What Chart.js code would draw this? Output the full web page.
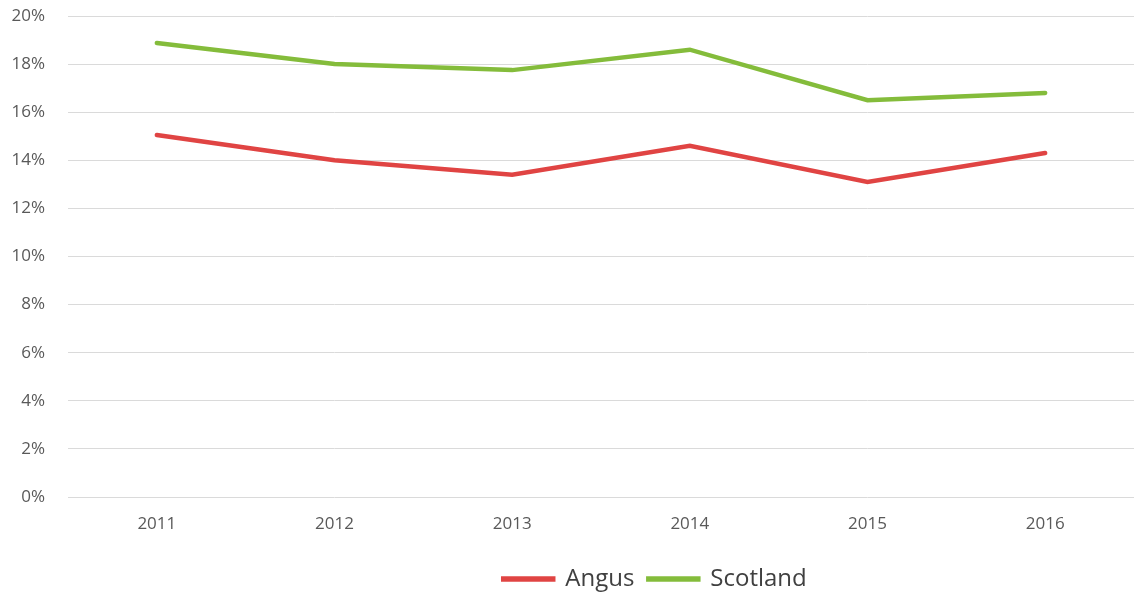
<!DOCTYPE html>
<html>
<head>
<meta charset="utf-8">
<script src="https://cdn.jsdelivr.net/npm/chart.js@4/dist/chart.umd.min.js"></script>
<style>
  html, body { margin: 0; padding: 0; background: #fff; }
  #wrap { width: 1134px; height: 595px; }
</style>
</head>
<body>
<div id="wrap"><canvas id="rateChart"></canvas></div>
<script>
// Years and rates (%) for each area
const years = ["2011", "2012", "2013", "2014", "2015", "2016"];
const angus = [15.05, 14.0, 13.4, 14.6, 13.1, 14.3];
const scotland = [18.88, 18.0, 17.75, 18.6, 16.5, 16.8];
const yTicks = [0, 2, 4, 6, 8, 10, 12, 14, 16, 18, 20];

const RED = "#e04443";
const GREEN = "#84bc3b";
const TEXT = "#595959";

// pushes the legend right and down under the plot
const legendShift = {
    id: "legendShift",
    afterLayout(chart) {
        const lg = chart.legend;
        if (!lg) return;
        lg.left += 176;
        lg.top += 10;
        lg.bottom += 10;
    }
};

document.addEventListener("DOMContentLoaded", () => {
    const ctx = document.getElementById("rateChart");

    new Chart(ctx, {
        type: "line",
        data: {
            labels: years,
            datasets: [
                {
                    label: "Angus",
                    data: angus,
                    borderColor: RED,
                    backgroundColor: RED,
                    borderWidth: 4.5,
                    pointRadius: 0,
                    tension: 0,
                    borderCapStyle: "round"
                },
                {
                    label: "Scotland",
                    data: scotland,
                    borderColor: GREEN,
                    backgroundColor: GREEN,
                    borderWidth: 4.5,
                    pointRadius: 0,
                    tension: 0,
                    borderCapStyle: "round"
                }
            ]
        },
        options: {
            responsive: true,
            maintainAspectRatio: false,
            animation: false,
            layout: { padding: { top: 0, right: 0, left: 0, bottom: 4 } },
            plugins: {
                tooltip: { enabled: false },
                legend: {
                    position: "bottom",
                    labels: {
                        boxWidth: 50,
                        boxHeight: 1,
                        padding: 14,
                        color: "#404040",
                        font: { family: "'Open Sans'", size: 24 }
                    }
                }
            },
            scales: {
                x: {
                    offset: true,
                    grid: { display: false },
                    border: { display: false },
                    ticks: {
                        color: TEXT,
                        padding: 9,
                        maxRotation: 0,
                        font: { family: "'Open Sans'", size: 17 }
                    },
                    afterFit: s => { s.height = 46; }
                },
                y: {
                    min: 0,
                    max: 20,
                    afterBuildTicks: s => { s.ticks = yTicks.map(v => ({ value: v })); },
                    grid: { color: "#dadada", lineWidth: 1, drawTicks: false },
                    border: { display: false },
                    ticks: {
                        color: TEXT,
                        padding: 23,
                        font: { family: "'Open Sans'", size: 17 },
                        callback: v => v + "%"
                    },
                    // fixed axis width; keep the top label from pushing the plot down
                    afterFit: s => {
                        s.width = 68;
                        s.paddingTop = 16;
                    }
                }
            }
        },
        plugins: [legendShift]
    });
});
</script>
</body>
</html>
